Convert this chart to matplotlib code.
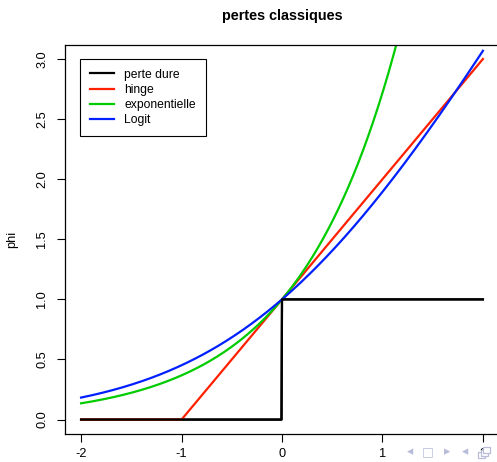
import numpy as np
import matplotlib.pyplot as plt
from matplotlib.patches import Rectangle

plt.rcParams["font.family"] = ["Liberation Sans", "DejaVu Sans"]

# loss functions plotted on [-2, 2]
x = np.linspace(-2, 2, 801)
labels = ["perte dure", "hinge", "exponentielle", "Logit"]
colors = ["black", "#ff2000", "#00cc00", "#0020ff"]
curves = [
    np.where(x < 0, 0.0, 1.0),
    np.maximum(0, 1 + x),
    np.exp(x),
    np.log2(1 + np.exp(x)),
]
x_ticks = [-2, -1, 0, 1, 2]
y_ticks = [0.0, 0.5, 1.0, 1.5, 2.0, 2.5, 3.0]

fig = plt.figure(figsize=(4.97, 4.62), dpi=100)
ax = fig.add_axes([65 / 497, 28 / 462, 434 / 497, 389.4 / 462])

for y, c, lab in zip(curves, colors, labels):
    ax.plot(x, y, color=c, lw=1.6, label=lab)
# redraw the hard loss on top so it covers the flat part of hinge
ax.plot(x, curves[0], color="black", lw=1.6)

ax.set_xlim(-2.16, 2.16)
ax.set_ylim(-0.12, 3.12)
ax.set_xticks(x_ticks, labels=[str(t) for t in x_ticks])
ax.set_yticks(y_ticks, labels=[f"{t:.1f}" for t in y_ticks])
ax.tick_params(axis="both", length=6, width=0.8, labelsize=9.2)
ax.tick_params(axis="x", pad=4)
ax.tick_params(axis="y", pad=6)
plt.setp(ax.get_yticklabels(), rotation=90, va="center")
for s in ax.spines.values():
    s.set_linewidth(0.9)
ax.set_ylabel("phi", fontsize=9.2, labelpad=13)
ax.set_title("pertes classiques", fontsize=10.4, fontweight="bold", pad=18)

leg = ax.legend(loc="upper left", bbox_to_anchor=(0.035, 0.963), borderaxespad=0,
                fancybox=False, edgecolor="black", framealpha=1, fontsize=8.7,
                handlelength=2.0, handletextpad=0.85, labelspacing=0.26,
                borderpad=0.8)
leg.get_frame().set_linewidth(0.8)

# beamer navigation symbols
nav_color = "#b8bcd8"
for xp, s in zip([410, 428, 447, 465], ["◂", "□", "▸", "◂"]):
    fig.text(xp / 497, 1 - 452 / 462, s, color=nav_color, fontsize=9,
             ha="center", va="center", family="DejaVu Sans")
for dx, dy in [(0, 0), (2.5, 2.5), (5, 5)]:
    fig.patches.append(Rectangle(((478 + dx) / 497, 1 - (458 - dy) / 462),
                                 7 / 497, 6 / 462, transform=fig.transFigure,
                                 facecolor="white", edgecolor=nav_color, lw=0.9))

fig.savefig("out.png", dpi=100)
